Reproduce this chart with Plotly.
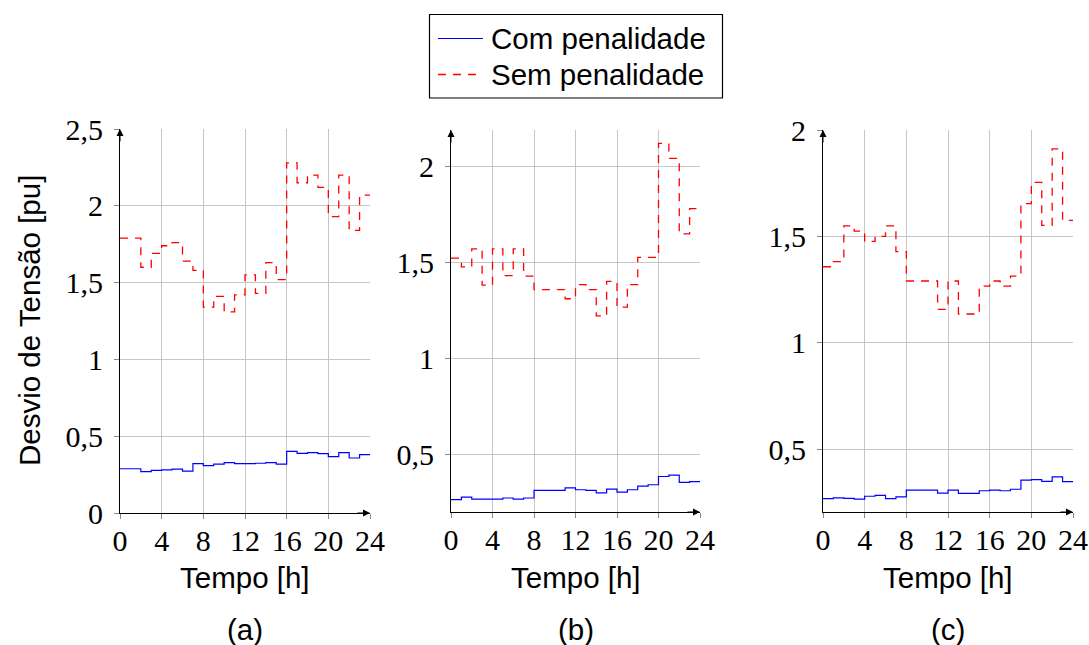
import plotly.graph_objects as go

# Hourly voltage deviation (pu), three cases (a), (b), (c)
hours = list(range(24))

com_a = [0.288, 0.288, 0.270, 0.277, 0.281, 0.285, 0.273, 0.322, 0.309, 0.318, 0.328, 0.322,
         0.322, 0.324, 0.328, 0.318, 0.401, 0.388, 0.393, 0.386, 0.367, 0.393, 0.358, 0.380]
sem_a = [1.79, 1.79, 1.60, 1.69, 1.74, 1.76, 1.64, 1.58, 1.34, 1.41, 1.31, 1.42,
         1.55, 1.43, 1.63, 1.52, 2.28, 2.15, 2.20, 2.12, 1.93, 2.20, 1.84, 2.07]

com_b = [0.264, 0.278, 0.267, 0.267, 0.267, 0.273, 0.267, 0.273, 0.313, 0.313, 0.313, 0.326,
         0.316, 0.313, 0.300, 0.319, 0.304, 0.316, 0.335, 0.342, 0.385, 0.392, 0.354, 0.358]
sem_b = [1.523, 1.477, 1.571, 1.382, 1.571, 1.431, 1.571, 1.429, 1.358, 1.358, 1.358, 1.311,
         1.384, 1.358, 1.222, 1.401, 1.267, 1.384, 1.526, 1.526, 2.120, 2.042, 1.649, 1.780]

com_c = [0.267, 0.270, 0.268, 0.265, 0.278, 0.282, 0.267, 0.275, 0.307, 0.307, 0.307, 0.293,
         0.307, 0.292, 0.292, 0.304, 0.307, 0.304, 0.311, 0.354, 0.356, 0.348, 0.369, 0.347]
sem_c = [1.357, 1.381, 1.549, 1.525, 1.476, 1.500, 1.549, 1.428, 1.290, 1.290, 1.290, 1.157,
         1.290, 1.135, 1.135, 1.266, 1.290, 1.266, 1.313, 1.654, 1.754, 1.552, 1.911, 1.575]

x_ticks = [0, 4, 8, 12, 16, 20, 24]
y_ticks_a = [0, 0.5, 1, 1.5, 2, 2.5]
y_labels_a = ["0", "0,5", "1", "1,5", "2", "2,5"]
y_ticks_bc = [0.5, 1, 1.5, 2]
y_labels_bc = ["0,5", "1", "1,5", "2"]

series_names = ["Com penalidade", "Sem penalidade"]
panel_labels = ["(a)", "(b)", "(c)"]
x_title = "Tempo [h]"
y_title = "Desvio de Tensão [pu]"

W, H = 1089, 645
BLUE = "#0000ff"
RED = "#ff0000"
SERIF = "Liberation Serif, DejaVu Serif, serif"
SANS = "Liberation Sans, Arial, sans-serif"


def px(x):
    return x / W


def py(y):
    return 1 - y / H


panels = [
    dict(com=com_a, sem=sem_a, x0=120, x1=370, y0=513, y1=129, yr=[0, 2.5],
         tv=y_ticks_a, tt=y_labels_a),
    dict(com=com_b, sem=sem_b, x0=451, x1=700, y0=512, y1=130, yr=[0.2, 2.19],
         tv=y_ticks_bc, tt=y_labels_bc),
    dict(com=com_c, sem=sem_c, x0=823, x1=1073, y0=512, y1=130, yr=[0.204, 2.0],
         tv=y_ticks_bc, tt=y_labels_bc),
]

fig = go.Figure()
annotations = []
shapes = []

step_x = hours + [24]

for i, p in enumerate(panels):
    n = "" if i == 0 else str(i + 1)
    xa, ya = "x" + n, "y" + n
    fig.add_trace(go.Scatter(
        x=step_x, y=p["com"] + [p["com"][-1]], mode="lines", line_shape="hv",
        line=dict(color=BLUE, width=1.2), name=series_names[0],
        xaxis=xa, yaxis=ya, showlegend=False))
    fig.add_trace(go.Scatter(
        x=step_x, y=p["sem"] + [p["sem"][-1]], mode="lines", line_shape="hv",
        line=dict(color=RED, width=1.3, dash="8px,7px"), name=series_names[1],
        xaxis=xa, yaxis=ya, showlegend=False))

    fig.update_layout(**{
        "xaxis" + n: dict(
            domain=[px(p["x0"]), px(p["x1"])], anchor=ya, range=[0, 24],
            tickvals=x_ticks, ticktext=[str(v) for v in x_ticks],
            showgrid=True, gridcolor="#c6c6c6", gridwidth=1,
            showline=True, linecolor="black", linewidth=1,
            ticks="outside", ticklen=5, tickcolor="#888888",
            ticklabelstandoff=-4, automargin=False,
            tickfont=dict(family=SERIF, size=30, color="black"),
            zeroline=False, fixedrange=True),
        "yaxis" + n: dict(
            domain=[py(p["y0"]), py(p["y1"])], anchor=xa, range=p["yr"],
            tickvals=p["tv"], ticktext=p["tt"],
            showgrid=True, gridcolor="#c6c6c6", gridwidth=1,
            showline=True, linecolor="black", linewidth=1,
            ticks="outside", ticklen=5, tickcolor="#888888",
            ticklabelstandoff=5, automargin=False,
            tickfont=dict(family=SERIF, size=30, color="black"),
            zeroline=False, fixedrange=True),
    })

    # axis arrowheads
    annotations.append(dict(x=24, y=p["yr"][0], xref=xa, yref=ya, text="",
                            showarrow=True, ax=-14, ay=0, arrowhead=2,
                            arrowsize=1.4, arrowwidth=1, arrowcolor="black",
                            standoff=0))
    annotations.append(dict(x=0, y=p["yr"][1], xref=xa, yref=ya, text="",
                            showarrow=True, ax=0, ay=14, arrowhead=2,
                            arrowsize=1.4, arrowwidth=1, arrowcolor="black",
                            standoff=0))

    cx = (p["x0"] + p["x1"]) / 2
    annotations.append(dict(x=px(cx), y=py(577), xref="paper", yref="paper",
                            text=x_title, showarrow=False, xanchor="center",
                            yanchor="middle",
                            font=dict(family=SANS, size=29.5, color="black")))
    annotations.append(dict(x=px(cx), y=py(629), xref="paper", yref="paper",
                            text=panel_labels[i], showarrow=False, xanchor="center",
                            yanchor="middle",
                            font=dict(family=SANS, size=29.5, color="black")))

annotations.append(dict(x=px(30), y=py(321), xref="paper", yref="paper",
                        text=y_title, textangle=-90, showarrow=False,
                        xanchor="center", yanchor="middle",
                        font=dict(family=SANS, size=29.5, color="black")))

# legend box
shapes.append(dict(type="rect", xref="paper", yref="paper",
                   x0=px(429.5), x1=px(722.5), y0=py(98), y1=py(14.5),
                   line=dict(color="black", width=1.2), fillcolor="white"))
shapes.append(dict(type="line", xref="paper", yref="paper",
                   x0=px(438), x1=px(483), y0=py(38.5), y1=py(38.5),
                   line=dict(color=BLUE, width=1.2)))
shapes.append(dict(type="line", xref="paper", yref="paper",
                   x0=px(438), x1=px(483), y0=py(74.5), y1=py(74.5),
                   line=dict(color=RED, width=1.3, dash="8px,7px")))
for name, yy in zip(series_names, [38.5, 74.5]):
    annotations.append(dict(x=px(489), y=py(yy), xref="paper", yref="paper",
                            text=name, showarrow=False, xanchor="left",
                            yanchor="middle",
                            font=dict(family=SANS, size=29.5, color="black")))

fig.update_layout(
    template="none",
    width=W, height=H, autosize=False,
    margin=dict(l=0, r=0, t=0, b=0, pad=0, autoexpand=False),
    paper_bgcolor="white", plot_bgcolor="white",
    showlegend=False,
    annotations=annotations, shapes=shapes,
)

fig.write_html("out.html", config={"responsive": False})
